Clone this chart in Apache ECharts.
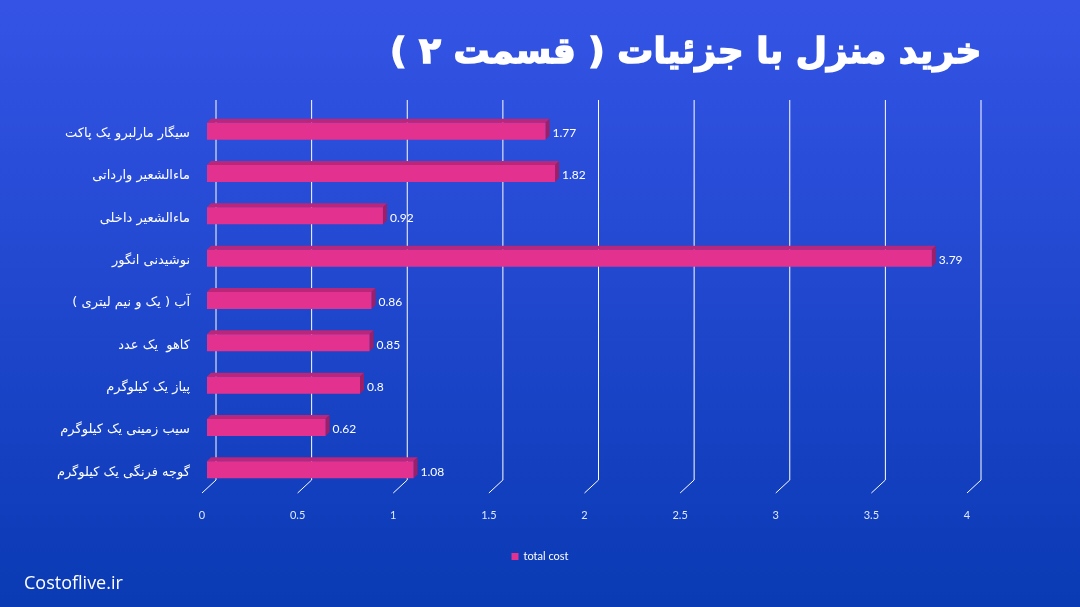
<!DOCTYPE html>
<html><head><meta charset="utf-8">
<script src="https://cdn.jsdelivr.net/npm/echarts@6/dist/echarts.min.js"></script>
<style>html,body{margin:0;padding:0;}#c{width:1080px;height:607px;}</style>
</head><body><div id="c"></div>
<script>
const titleText = 'خرید منزل با جزئیات ( قسمت ۲ )';
const categories = ['سیگار مارلبرو یک پاکت','ماءالشعیر وارداتی','ماءالشعیر داخلی','نوشیدنی انگور','آب ( یک و نیم لیتری )','کاهو  یک عدد','پیاز یک کیلوگرم','سیب زمینی یک کیلوگرم','گوجه فرنگی یک کیلوگرم'];
const totalCost = [1.77, 1.82, 0.92, 3.79, 0.86, 0.85, 0.8, 0.62, 1.08];
const xTicks = [0, 0.5, 1, 1.5, 2, 2.5, 3, 3.5, 4];
const seriesName = 'total cost';
const watermark = 'Costoflive.ir';

const chart = echarts.init(document.getElementById('c'));
const FRONT = '#e3318f', TOP = '#b9267a', SIDE = '#9d1f68';

function barItem(params, api) {
  const v = api.value(0), ci = api.value(1);
  const p0 = api.coord([0, ci]);
  const p1 = api.coord([v, ci]);
  const off = 5, h = 17, dx = 4, dy = 4;
  const x0 = p0[0] + off, x1 = p1[0] + off, yTop = p0[1] - h / 2 + 1, yBot = yTop + h;
  return {
    type: 'group',
    children: [
      { type: 'polygon', shape: { points: [[x0, yTop], [x0 + dx, yTop - dy], [x1 + dx, yTop - dy], [x1, yTop]] }, style: { fill: TOP } },
      { type: 'polygon', shape: { points: [[x1, yTop], [x1 + dx, yTop - dy], [x1 + dx, yBot - dy], [x1, yBot]] }, style: { fill: SIDE } },
      { type: 'rect', shape: { x: x0, y: yTop, width: x1 - x0, height: h }, style: { fill: FRONT } },
      { type: 'text', x: x1 + dx + 3, y: p0[1] + 3, style: { text: String(v), fill: '#ffffff', font: '12px Lato', verticalAlign: 'middle', align: 'left' } }
    ]
  };
}

function gridItem(params, api) {
  const v = api.value(0);
  const p = api.coord([v, 0]);
  const cs = params.coordSys;
  const x = p[0];
  return {
    type: 'polyline',
    shape: { points: [[x + 14, cs.y - 9], [x + 14, cs.y + cs.height - 10], [x, cs.y + cs.height + 3]] },
    style: { stroke: '#ffffff', lineWidth: 1, fill: null }
  };
}

chart.setOption({
  backgroundColor: new echarts.graphic.LinearGradient(0, 0, 0, 1, [
    { offset: 0, color: '#3554e6' }, { offset: 1, color: '#0a3ab4' }
  ]),
  animation: false,
  title: {
    text: titleText, right: 92, top: 31,
    textStyle: { color: '#ffffff', fontSize: 36, fontWeight: 'bold', fontFamily: 'DejaVu Sans', textBorderColor: '#ffffff', textBorderWidth: 1.5 }
  },
  graphic: [{
    type: 'text', left: 24, top: 575,
    style: { text: watermark, fill: '#ffffff', font: '18px "Open Sans"' }
  }],
  legend: {
    bottom: 40, left: 'center', itemWidth: 7, itemHeight: 7, icon: 'rect',
    data: [seriesName],
    textStyle: { color: '#ffffff', fontSize: 11, fontFamily: 'Lato' }
  },
  grid: { left: 202, right: 113, top: 109, bottom: 117 },
  xAxis: {
    type: 'value', min: 0, max: 4, interval: 0.5,
    axisLine: { show: false }, axisTick: { show: false }, splitLine: { show: false },
    axisLabel: { color: '#dfe8ff', fontSize: 11, margin: 20, fontFamily: 'Lato' }
  },
  yAxis: {
    type: 'category', data: categories, inverse: true,
    axisLine: { show: false }, axisTick: { show: false },
    axisLabel: {
      color: '#ffffff', fontSize: 13, margin: 12, fontFamily: 'DejaVu Sans',
      formatter: function (s) { return '{a|' + s + '}'; },
      rich: { a: { color: '#ffffff', fontSize: 13, fontFamily: 'DejaVu Sans', padding: [7, 0, 0, 0] } }
    }
  },
  series: [
    { type: 'custom', name: 'grid', silent: true, renderItem: gridItem, data: xTicks.map(t => [t, 0]), encode: { x: 0, y: 1 }, z: 1, legendHoverLink: false },
    { type: 'custom', name: seriesName, renderItem: barItem, itemStyle: { color: FRONT },
      data: totalCost.map((v, i) => [v, i]), encode: { x: 0, y: 1 }, z: 2 }
  ]
});
</script></body></html>
